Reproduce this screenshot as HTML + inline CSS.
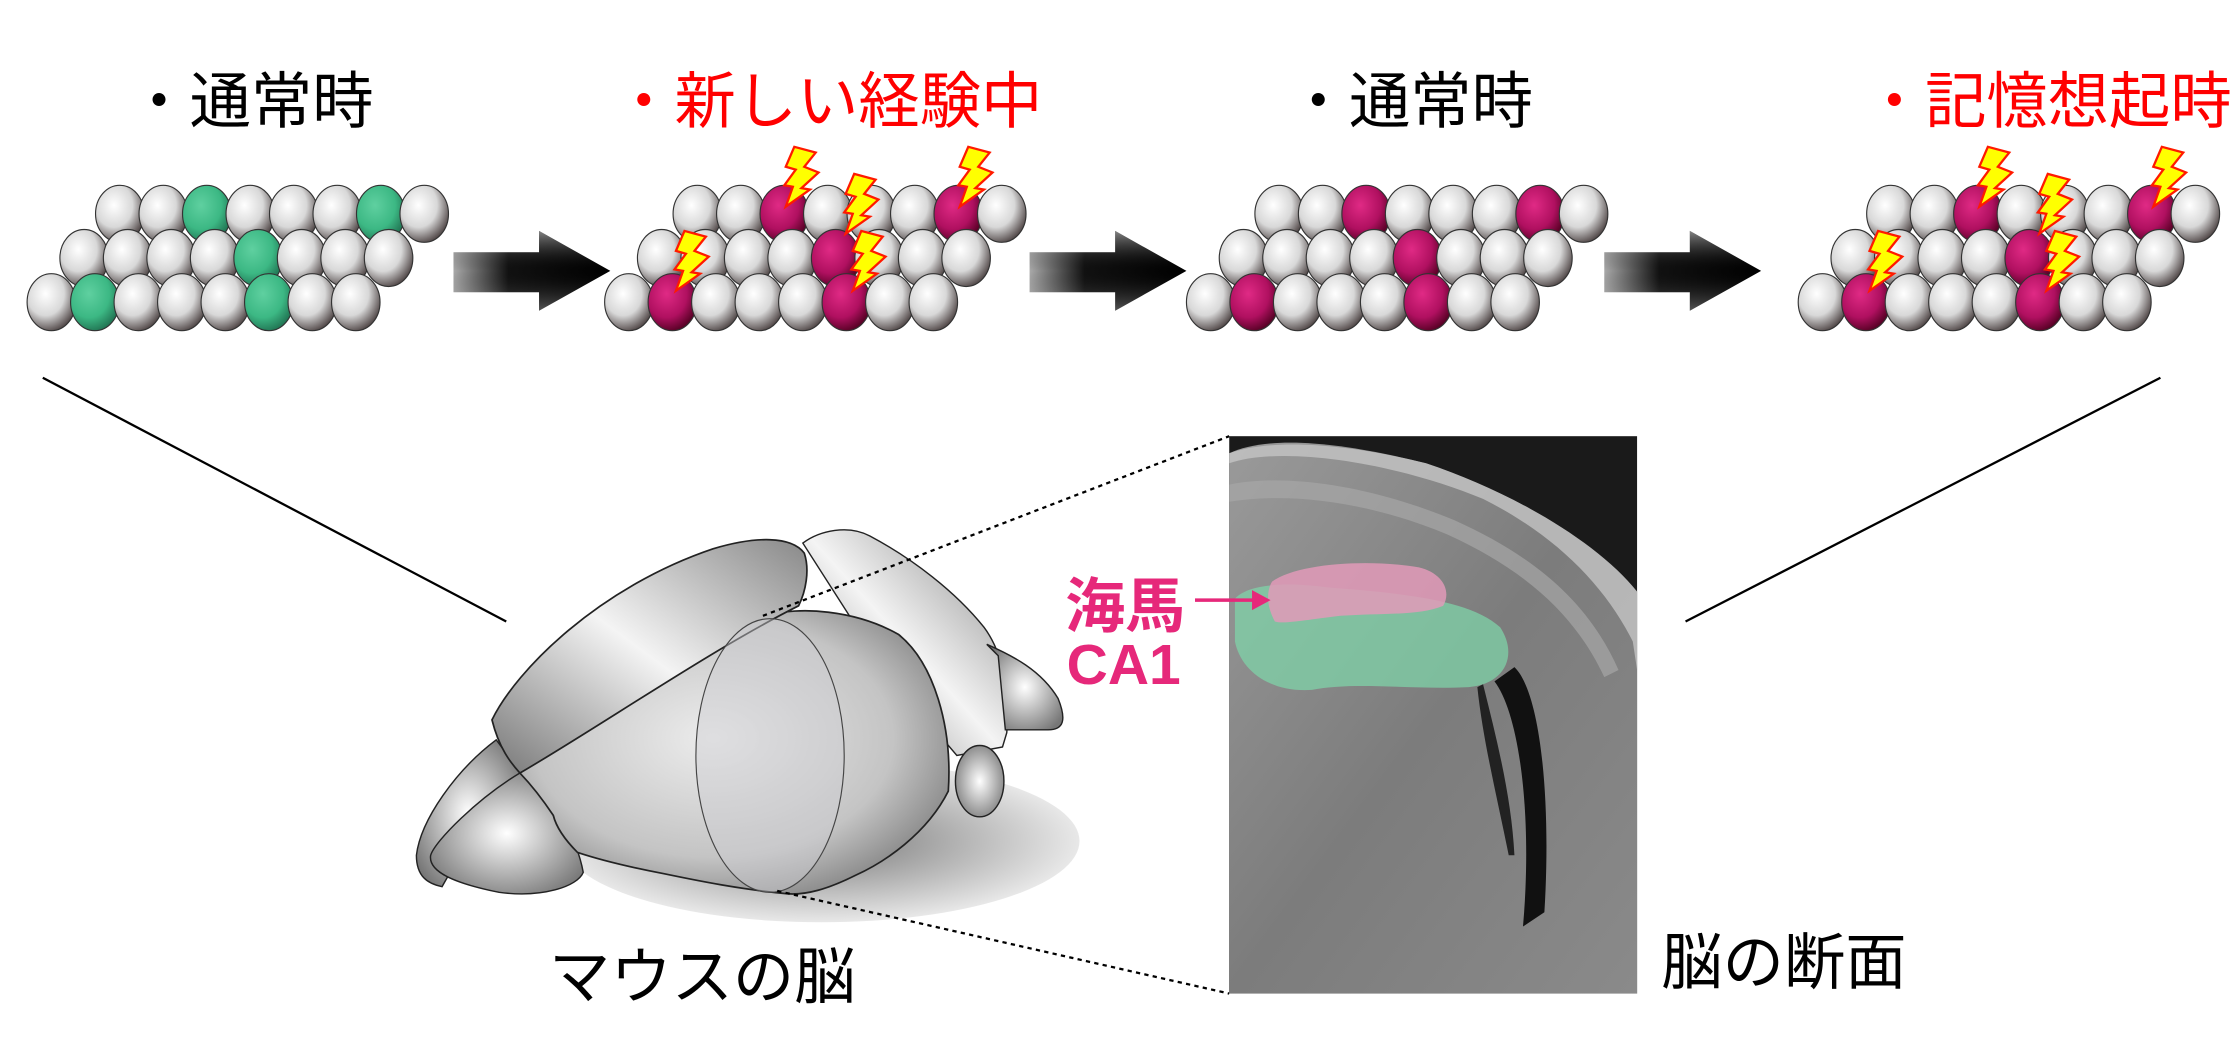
<!DOCTYPE html>
<html><head><meta charset="utf-8"><style>
html,body{margin:0;padding:0;background:#fff;}
svg{display:block;}
text{font-family:"Liberation Sans","Noto Sans CJK JP",sans-serif;}
</style></head><body>
<svg width="2236" height="1052" viewBox="0 0 1568 738" preserveAspectRatio="none" xmlns="http://www.w3.org/2000/svg">
<defs>
<radialGradient id="gw" cx="0.38" cy="0.35" r="0.7"><stop offset="0" stop-color="#ffffff"/><stop offset="0.55" stop-color="#d8d8d8"/><stop offset="1" stop-color="#4a4040"/></radialGradient>
<radialGradient id="gg" cx="0.38" cy="0.35" r="0.7"><stop offset="0" stop-color="#5fd0a0"/><stop offset="0.6" stop-color="#3cb884"/><stop offset="1" stop-color="#1f7050"/></radialGradient>
<radialGradient id="gm" cx="0.38" cy="0.35" r="0.7"><stop offset="0" stop-color="#e02a85"/><stop offset="0.6" stop-color="#b01060"/><stop offset="1" stop-color="#500020"/></radialGradient>
<linearGradient id="arr" x1="0" y1="0" x2="1" y2="0"><stop offset="0" stop-color="#aaa"/><stop offset="0.35" stop-color="#111"/><stop offset="1" stop-color="#000"/></linearGradient>
<linearGradient id="arrv" x1="0" y1="0" x2="0" y2="1"><stop offset="0" stop-color="#fff" stop-opacity="0.5"/><stop offset="0.5" stop-color="#000" stop-opacity="0"/><stop offset="1" stop-color="#fff" stop-opacity="0.3"/></linearGradient>
<radialGradient id="br" cx="0.45" cy="0.45" r="0.7"><stop offset="0" stop-color="#ececec"/><stop offset="0.6" stop-color="#c4c4c4"/><stop offset="1" stop-color="#6a6a6a"/></radialGradient>
<linearGradient id="br2" x1="0" y1="1" x2="1" y2="0"><stop offset="0" stop-color="#777"/><stop offset="0.5" stop-color="#f4f4f4"/><stop offset="1" stop-color="#888"/></linearGradient>
<radialGradient id="sh" cx="0.5" cy="0.5" r="0.5"><stop offset="0" stop-color="#777"/><stop offset="1" stop-color="#e8e8e8"/></radialGradient>
<radialGradient id="lob" cx="0.5" cy="0.5" r="0.6"><stop offset="0" stop-color="#fff"/><stop offset="1" stop-color="#777"/></radialGradient>
<linearGradient id="slice" x1="0" y1="0" x2="1" y2="1"><stop offset="0" stop-color="#9a9a9a"/><stop offset="0.5" stop-color="#7c7c7c"/><stop offset="1" stop-color="#8a8a8a"/></linearGradient>
<path id="bolt" d="M12 0 L27 4 L19 14 L29 18 L17 29 L23 30 L6 42 L11 28 L5 27 L13 16 L6 14 Z" fill="#ffff00" stroke="#ff1a00" stroke-width="1.6" stroke-linejoin="miter"/>
<g id="cells">
  <g transform="translate(48,150)">
    <ellipse cx="16" cy="0" rx="17" ry="20" fill="url(#gw)" stroke="#333" stroke-width="0.8"/>
    <ellipse cx="46.5" cy="0" rx="17" ry="20" fill="url(#gw)" stroke="#333" stroke-width="0.8"/>
    <ellipse cx="77" cy="0" rx="17" ry="20" fill="var(--c)" stroke="#333" stroke-width="0.8"/>
    <ellipse cx="107.5" cy="0" rx="17" ry="20" fill="url(#gw)" stroke="#333" stroke-width="0.8"/>
    <ellipse cx="138" cy="0" rx="17" ry="20" fill="url(#gw)" stroke="#333" stroke-width="0.8"/>
    <ellipse cx="168.5" cy="0" rx="17" ry="20" fill="url(#gw)" stroke="#333" stroke-width="0.8"/>
    <ellipse cx="199" cy="0" rx="17" ry="20" fill="var(--c)" stroke="#333" stroke-width="0.8"/>
    <ellipse cx="229.5" cy="0" rx="17" ry="20" fill="url(#gw)" stroke="#333" stroke-width="0.8"/>
  </g>
  <g transform="translate(23,181)">
    <ellipse cx="16" cy="0" rx="17" ry="20" fill="url(#gw)" stroke="#333" stroke-width="0.8"/>
    <ellipse cx="46.5" cy="0" rx="17" ry="20" fill="url(#gw)" stroke="#333" stroke-width="0.8"/>
    <ellipse cx="77" cy="0" rx="17" ry="20" fill="url(#gw)" stroke="#333" stroke-width="0.8"/>
    <ellipse cx="107.5" cy="0" rx="17" ry="20" fill="url(#gw)" stroke="#333" stroke-width="0.8"/>
    <ellipse cx="138" cy="0" rx="17" ry="20" fill="var(--c)" stroke="#333" stroke-width="0.8"/>
    <ellipse cx="168.5" cy="0" rx="17" ry="20" fill="url(#gw)" stroke="#333" stroke-width="0.8"/>
    <ellipse cx="199" cy="0" rx="17" ry="20" fill="url(#gw)" stroke="#333" stroke-width="0.8"/>
    <ellipse cx="229.5" cy="0" rx="17" ry="20" fill="url(#gw)" stroke="#333" stroke-width="0.8"/>
  </g>
  <g transform="translate(0,212)">
    <ellipse cx="16" cy="0" rx="17" ry="20" fill="url(#gw)" stroke="#333" stroke-width="0.8"/>
    <ellipse cx="46.5" cy="0" rx="17" ry="20" fill="var(--c)" stroke="#333" stroke-width="0.8"/>
    <ellipse cx="77" cy="0" rx="17" ry="20" fill="url(#gw)" stroke="#333" stroke-width="0.8"/>
    <ellipse cx="107.5" cy="0" rx="17" ry="20" fill="url(#gw)" stroke="#333" stroke-width="0.8"/>
    <ellipse cx="138" cy="0" rx="17" ry="20" fill="url(#gw)" stroke="#333" stroke-width="0.8"/>
    <ellipse cx="168.5" cy="0" rx="17" ry="20" fill="var(--c)" stroke="#333" stroke-width="0.8"/>
    <ellipse cx="199" cy="0" rx="17" ry="20" fill="url(#gw)" stroke="#333" stroke-width="0.8"/>
    <ellipse cx="229.5" cy="0" rx="17" ry="20" fill="url(#gw)" stroke="#333" stroke-width="0.8"/>
  </g>
</g>
<g id="bolts">
  <use href="#bolt" x="120" y="103"/>
  <use href="#bolt" x="242" y="103"/>
  <use href="#bolt" x="162" y="122"/>
  <use href="#bolt" x="167" y="162"/>
  <use href="#bolt" x="43" y="162"/>
</g>
<g id="arrow">
  <path d="M0 177 L60 177 L60 162 L110 190 L60 218 L60 205 L0 205 Z" fill="url(#arr)"/>
  <path d="M0 177 L60 177 L60 162 L110 190 L60 218 L60 205 L0 205 Z" fill="url(#arrv)"/>
</g>
</defs>

<text x="90" y="86" font-size="43" fill="#000">・通常時</text>
<text x="430" y="86" font-size="43" fill="#ff0000">・新しい経験中</text>
<text x="903" y="86" font-size="43" fill="#000">・通常時</text>
<text x="1307" y="86" font-size="43" fill="#ff0000">・記憶想起時</text>

<g transform="translate(20,0)" style="--c:url(#gg)"><use href="#cells"/></g>
<g transform="translate(425,0)" style="--c:url(#gm)"><use href="#cells"/><use href="#bolts"/></g>
<g transform="translate(833,0)" style="--c:url(#gm)"><use href="#cells"/></g>
<g transform="translate(1262,0)" style="--c:url(#gm)"><use href="#cells"/><use href="#bolts"/></g>

<use href="#arrow" x="318" y="0"/>
<use href="#arrow" x="722" y="0"/>
<use href="#arrow" x="1125" y="0"/>

<line x1="30" y1="265" x2="355" y2="436" stroke="#000" stroke-width="1.6"/>
<line x1="1515" y1="265" x2="1182" y2="436" stroke="#000" stroke-width="1.6"/>

<!-- brain -->
<ellipse cx="576" cy="590" rx="181" ry="57" fill="url(#sh)"/>
<path d="M563 381 C575 372 595 368 610 376 C640 392 670 415 690 440 C705 460 708 490 706 514 L703 524 L671 530 L620 470 Z" fill="url(#br2)" stroke="#222" stroke-width="1"/>
<path d="M692 452 C710 460 730 470 742 490 C748 505 746 512 735 512 L705 512 L700 460 Z" fill="url(#lob)" stroke="#222" stroke-width="1"/>
<ellipse cx="687" cy="548" rx="17" ry="25" fill="url(#lob)" stroke="#222" stroke-width="1"/>
<path d="M348 519 C320 540 295 575 292 600 C292 615 300 620 310 622 L345 560 L365 542 Z" fill="url(#lob)" stroke="#222" stroke-width="1"/>
<path d="M365 542 C335 560 305 590 302 600 C300 612 320 620 350 626 C380 630 405 622 409 612 C405 590 390 560 365 542 Z" fill="url(#lob)" stroke="#222" stroke-width="1"/>
<path d="M364.6 542.3 C420 505 490 455 538 432 C560 425 600 428 630 445 C655 465 668 510 665 555 C650 585 620 605 600 614 C580 624 565 628 552 627 C520 624 490 618 466 613 C440 608 420 603 405 598 C395 588 390 580 388 572 C380 560 372 550 364.6 542.3 Z" fill="url(#br)" stroke="#222" stroke-width="1.2"/>
<path d="M345 505 C362 470 420 412 500 385 C530 376 555 376 564 388 C568 400 565 415 560 425 C500 455 420 510 364.6 542.3 C358 535 350 525 345 505 Z" fill="url(#br2)" stroke="#222" stroke-width="1.2"/>
<ellipse cx="540" cy="530" rx="52" ry="96" fill="#cfcfd2" fill-opacity="0.45" stroke="#444" stroke-width="0.8"/>
<text x="385" y="700" font-size="43" fill="#000">マウスの脳</text>

<line x1="535" y1="432" x2="862" y2="306" stroke="#000" stroke-width="1.6" stroke-dasharray="3,3"/>
<line x1="545" y1="625" x2="862" y2="697" stroke="#000" stroke-width="1.6" stroke-dasharray="3,3"/>

<!-- slice -->
<rect x="862" y="306" width="286" height="391" fill="#1a1a1a"/>
<path d="M862 318 C890 305 940 310 1000 325 C1060 345 1120 380 1148 415 L1148 697 L862 697 Z" fill="url(#slice)"/>
<path d="M862 325 C900 312 980 325 1040 350 C1090 375 1125 410 1145 450 L1148 470 L1148 415 C1120 380 1060 345 1000 325 C940 310 890 308 862 318 Z" fill="#c4c4c4" opacity="0.8"/>
<path d="M862 340 C900 332 960 340 1020 365 C1080 392 1115 425 1135 470 L1125 475 C1105 432 1070 400 1015 375 C960 352 905 345 862 352 Z" fill="#a6a6a6" opacity="0.7"/>
<path d="M1062 468 C1080 485 1088 560 1083 640 L1068 650 C1075 570 1065 500 1048 478 Z" fill="#111"/>
<path d="M1040 480 C1050 520 1060 560 1062 600 L1058 600 C1050 560 1040 520 1036 482 Z" fill="#222"/>
<path d="M866 420 C875 410 900 408 930 412 C980 416 1030 420 1052 440 C1065 460 1055 480 1030 482 C990 484 950 478 920 484 C890 486 870 470 866 450 Z" fill="#7fd3a8" opacity="0.75"/>
<path d="M892 408 C910 395 960 392 995 398 C1012 402 1018 415 1012 425 C995 432 970 430 940 432 C915 435 900 438 894 436 C888 425 888 415 892 408 Z" fill="#e29ab8" opacity="0.85"/>

<text x="747" y="440" font-size="42" fill="#e6287a" font-weight="bold">海馬</text>
<line x1="838" y1="421" x2="880" y2="421" stroke="#e6287a" stroke-width="2.4"/>
<path d="M891 421 L878 414 L878 428 Z" fill="#e6287a"/>
<text x="748" y="480" font-size="40" fill="#e6287a" font-weight="bold">CA1</text>
<text x="1165" y="690" font-size="43" fill="#000">脳の断面</text>
</svg>
</body></html>
